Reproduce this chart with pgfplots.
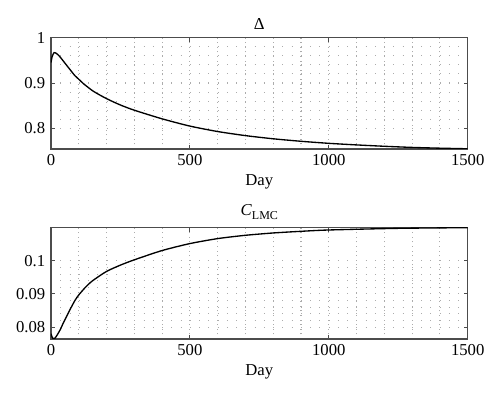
\documentclass[border=0pt]{standalone}
\usepackage{fontspec}
\setmainfont{Liberation Serif}
\usepackage{pgfplots}
\pgfplotsset{compat=1.18}
\begin{document}
\fontsize{12.5}{14}\selectfont
\begin{tikzpicture}
\useasboundingbox (-38.25pt,111.75pt) rectangle (336.75pt,-187.5pt);
\pgfplotsset{
  myax/.style={
    scale only axis,
    width=312.5pt, height=83.5pt,
    xmin=0, xmax=1500,
    xtick={0,500,1000,1500},
    minor x tick num=4,
    minor y tick num=4,
    grid=both,
    every major x grid/.append style={gray!65, line width=0.8pt, dash pattern=on 0.8pt off 2.65pt},
    every minor x grid/.append style={gray!65, line width=0.8pt, dash pattern=on 0.8pt off 2.65pt},
    every major y grid/.append style={gray!65, line width=0.8pt, dash pattern=on 0.8pt off 6.14pt},
    every minor y grid/.append style={gray!65, line width=0.8pt, dash pattern=on 0.8pt off 6.14pt},
    axis line style={black!70, line width=0.9pt},
    tick style={black!70, line width=0.7pt},
    tick align=inside,
    major tick length=3pt,
    minor tick length=0pt,
    xlabel={Day},
    xlabel style={yshift=2pt},
    title style={yshift=-4pt},
    scaled ticks=false,
    /pgf/number format/fixed,
    /pgf/number format/precision=3,
    /pgf/number format/1000 sep={},
    /pgf/number format/assume math mode=true,
    ticklabel style={font=\fontsize{12.5}{14}\selectfont},
    label style={font=\fontsize{12.5}{14}\selectfont},
    every axis title/.append style={font=\fontsize{12.5}{14}\selectfont},
  }
}
\begin{axis}[myax, at={(0,0)}, anchor=south west,
  ymin=0.7545, ymax=1,
  ytick={0.8,0.9,1},
  title={Δ}]
\addplot[black, line width=1pt, smooth, tension=0.4] coordinates {
(0,0.945) (4,0.958) (11,0.967) (20,0.965) (32,0.958) (50,0.944) (68,0.930) (85,0.917) (104,0.906)
(116,0.899) (152,0.882) (200,0.8655) (250,0.8515) (300,0.840) (400,0.821) (500,0.805) (600,0.793)
(700,0.784) (800,0.777) (900,0.7715) (1000,0.767) (1100,0.7635) (1200,0.7605)
(1300,0.758) (1400,0.7563) (1500,0.755)
};
\end{axis}
\begin{axis}[myax, at={(0,-59pt)}, anchor=north west,
  ymin=0.0764, ymax=0.110,
  ytick={0.08,0.09,0.1},
  title={\textit{C}\raisebox{-0.45ex}{\fontsize{9}{10}\selectfont LMC}}]
\addplot[black, line width=1pt, smooth, tension=0.4] coordinates {
(0,0.0780) (4,0.0770) (8,0.0764) (15,0.0767) (25,0.0780) (35,0.0795) (44,0.0812) (56,0.0832)
(68,0.0852) (86,0.0880) (100,0.0897) (125,0.0921) (150,0.0940) (200,0.0968) (250,0.0987)
(300,0.1003) (400,0.1031) (500,0.1052) (600,0.1067) (700,0.1077) (800,0.1084) (900,0.1089)
(1000,0.1093) (1250,0.1098) (1500,0.1100)
};
\end{axis}
\end{tikzpicture}
\end{document}
